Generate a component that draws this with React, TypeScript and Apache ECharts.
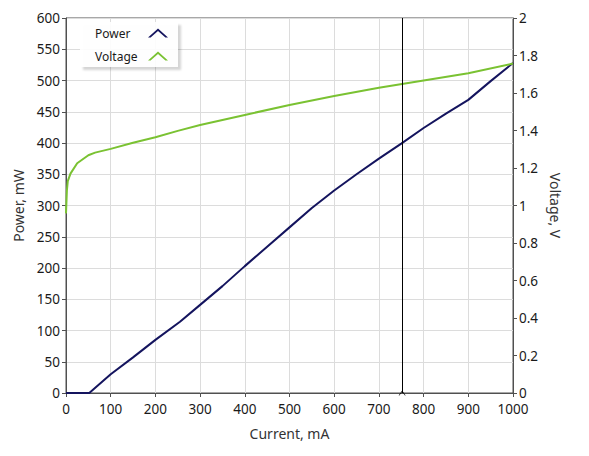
import React, { useEffect, useRef } from "react";
import * as echarts from "echarts";

const powerCurrent = [0, 52, 100, 150, 200, 255, 300, 350, 400, 450, 500, 550, 600, 650, 700, 750, 800, 850, 900, 950, 1000];
const powerValues = [0, 0, 30, 57, 85, 114, 141, 171, 203, 234, 265, 296, 324, 350, 375, 399, 424, 447, 469, 499, 528];

const voltageCurrent = [0, 2, 4, 10, 25, 50, 65, 100, 150, 200, 250, 300, 400, 500, 600, 700, 800, 900, 1000];
const voltageValues = [0.958, 1.08, 1.13, 1.17, 1.225, 1.268, 1.282, 1.302, 1.335, 1.364, 1.398, 1.429, 1.483, 1.536, 1.584, 1.628, 1.667, 1.705, 1.757];

const markerCurrent = 752;

const seriesNames = ["Power", "Voltage"];
const axisNames = { x: "Current, mA", left: "Power, mW", right: "Voltage, V" };

const FONT = "'Segoe UI', 'Noto Sans', 'Open Sans', sans-serif";
const NAVY = "#14145e";
const GREEN = "#7ac232";
const chevron = "path://M0,9L10,0L20,9L17.4,9L10,2.6L2.6,9Z";

export default function App() {
  const ref = useRef<HTMLDivElement>(null);
  useEffect(() => {
    if (!ref.current) return;
    const chart = echarts.init(ref.current, null, { renderer: "svg" });
    const axisLine = { show: true, lineStyle: { color: "#505050", width: 1 } };
    const axisTick = { show: true, length: 4, lineStyle: { color: "#505050" } };
    const axisLabel = { color: "#1a1a1a", fontSize: 13.5, fontFamily: FONT, lineHeight: 14 };
    const nameTextStyle = { color: "#333", fontSize: 14, fontFamily: FONT };
    chart.setOption({
      animation: false,
      backgroundColor: "#fff",
      grid: {
        left: 66,
        right: 76,
        top: 18,
        bottom: 63,
        containLabel: false,
        outerBoundsMode: "none",
        show: true,
        borderColor: "#505050",
        borderWidth: 1,
      },
      legend: {
        orient: "vertical",
        left: 80,
        top: 22,
        align: "right",
        data: seriesNames.map((n, i) => ({ name: n, icon: chevron, itemStyle: { color: i === 0 ? NAVY : GREEN } })),
        itemWidth: 20,
        itemHeight: 9,
        itemGap: 11,
        padding: [5, 10, 5, 15],
        backgroundColor: "rgba(255,255,255,0.92)",
        shadowColor: "rgba(0,0,0,0.18)",
        shadowBlur: 2,
        shadowOffsetX: 3,
        shadowOffsetY: 3,
        formatter: (name: string) => `{a|${name}}`,
        textStyle: {
          color: "#1a1a1a",
          fontSize: 12,
          fontFamily: FONT,
          rich: { a: { width: 48, align: "left", color: "#1a1a1a", fontSize: 12, fontFamily: FONT } },
        },
      },
      xAxis: {
        type: "value",
        min: 0,
        max: 1000,
        interval: 100,
        name: axisNames.x,
        nameLocation: "middle",
        nameGap: 33,
        nameTextStyle,
        axisLine,
        axisTick,
        axisLabel: { ...axisLabel, margin: 9, formatter: (v: number) => String(v) },
        splitLine: { show: true, lineStyle: { color: "#dcdcdc", width: 1 } },
      },
      yAxis: [
        {
          type: "value",
          min: 0,
          max: 600,
          interval: 50,
          name: axisNames.left,
          nameLocation: "middle",
          nameGap: 39,
          nameTextStyle,
          axisLine,
          axisTick,
          axisLabel: { ...axisLabel, margin: 6 },
          splitLine: { show: true, lineStyle: { color: "#dcdcdc", width: 1 } },
        },
        {
          type: "value",
          min: 0,
          max: 2,
          interval: 0.2,
          position: "right",
          name: axisNames.right,
          nameLocation: "middle",
          nameRotate: -90,
          nameGap: 33,
          nameTextStyle,
          axisLine,
          axisTick,
          axisLabel: { ...axisLabel, margin: 6 },
          splitLine: { show: false },
        },
      ],
      series: [
        {
          name: seriesNames[0],
          type: "line",
          yAxisIndex: 0,
          showSymbol: false,
          color: NAVY,
          lineStyle: { color: NAVY, width: 2 },
          data: powerCurrent.map((c, i) => [c, powerValues[i]]),
          z: 3,
          markLine: {
            silent: true,
            symbol: ["none", "path://M0,0L5,8L10,0L9,0L5,6L1,0Z"],
            symbolSize: [7, 5],
            label: { show: false },
            lineStyle: { color: "#000", width: 1, type: "solid" },
            data: [[{ coord: [markerCurrent, 600] }, { coord: [markerCurrent, 0] }]],
          },
        },
        {
          name: seriesNames[1],
          type: "line",
          yAxisIndex: 1,
          showSymbol: false,
          color: GREEN,
          lineStyle: { color: GREEN, width: 2 },
          data: voltageCurrent.map((c, i) => [c, voltageValues[i]]),
          z: 3,
        },
      ],
    });
    return () => chart.dispose();
  }, []);
  return <div ref={ref} style={{ position: "fixed", left: 0, top: 0, width: 589, height: 456 }} />;
}
